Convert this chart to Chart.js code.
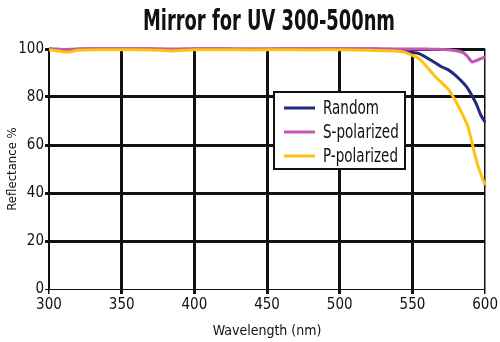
<!DOCTYPE html>
<html>
<head>
<meta charset="utf-8">
<script src="https://cdn.jsdelivr.net/npm/chart.js@4"></script>
<style>
  html, body { margin: 0; padding: 0; background: #fff; }
</style>
</head>
<body>
<canvas id="myChart" width="500" height="342"></canvas>
<script>
// wavelengths (nm) shared by all three curves
var wavelengths = [300, 305, 310, 315, 320, 335, 350, 370, 385, 400, 420, 440, 460, 480, 500, 520, 530, 540, 545, 550, 555, 560, 565, 570, 575, 580, 585, 588, 591, 594, 597, 600];

// reflectance %
var randomVals = [100, 99.8, 99.6, 99.7, 99.9, 100, 100, 100, 99.8, 100, 100, 99.9, 100, 100, 100, 100, 99.9, 99.8, 99.5, 98.6, 98, 96.3, 94.5, 92.6, 91.2, 88.8, 85.8, 83.6, 80.5, 77, 72.5, 69.5];
var sPolVals   = [100, 100, 99.8, 99.9, 100, 100, 100, 100, 100, 100, 100, 100, 100, 100, 100, 100, 100, 100, 100, 100, 100, 100, 99.9, 99.8, 99.7, 99.3, 98.5, 96.8, 94.6, 95.2, 96, 96.6];
var pPolVals   = [99.7, 99.3, 98.8, 98.9, 99.5, 99.7, 99.7, 99.6, 99.2, 99.7, 99.7, 99.6, 99.7, 99.6, 99.7, 99.5, 99.3, 99.1, 98.6, 97.3, 95.8, 92.5, 89, 86, 83, 78, 72, 68, 61, 53.5, 48, 43.3];

var xTicks = [300, 350, 400, 450, 500, 550, 600];
var yTicks = [0, 20, 40, 60, 80, 100];

var seriesNames = ["Random", "S-polarized", "P-polarized"];
var seriesColors = ["#232a7a", "#c257b4", "#ffc20e"];
// Chart.js draws higher order first: blue at the bottom, then pink, yellow on top
var seriesOrder = [4, 3, 1];

var FONT = "'DejaVu Sans Condensed', 'DejaVu Sans', sans-serif";

function toPoints(vals){
    var pts = [];
    for (var i = 0; i < wavelengths.length; i++){
        pts.push({x: wavelengths[i], y: vals[i]});
    }
    return pts;
}

// squeeze a text to a given width, the original uses a very narrow face
function narrowText(ctx, txt, x, y, scaleX){
    ctx.save();
    ctx.translate(x, y);
    ctx.scale(scaleX, 1);
    ctx.fillText(txt, 0, 0);
    ctx.restore();
}

// draws the title and the boxed legend inside the plot
var extras = {
    id: 'extras',
    afterDraw: function(chart){
        var ctx = chart.ctx;
        ctx.save();
        ctx.fillStyle = '#111';
        ctx.font = "bold 29px " + FONT;
        ctx.textAlign = 'center';
        ctx.textBaseline = 'middle';
        var title = 'Mirror for UV 300-500nm';
        var tw = ctx.measureText(title).width;
        narrowText(ctx, title, 269, 22, 252 / tw);

        // legend box
        var bx = 274, by = 92, bw = 131, bh = 77;
        ctx.fillStyle = '#fff';
        ctx.fillRect(bx, by, bw, bh);
        ctx.lineWidth = 2;
        ctx.strokeStyle = '#111';
        ctx.strokeRect(bx, by, bw, bh);

        ctx.font = "20px " + FONT;
        ctx.textAlign = 'left';
        var sx = 75 / ctx.measureText('P-polarized').width;
        chart.data.datasets.forEach(function(ds, i){
            var yy = 108 + i * 24;
            ctx.strokeStyle = ds.borderColor;
            ctx.lineWidth = 3;
            ctx.beginPath();
            ctx.moveTo(284, yy);
            ctx.lineTo(315, yy);
            ctx.stroke();
            ctx.fillStyle = '#111';
            narrowText(ctx, ds.label, 323, yy + 1, sx);
        });
        ctx.restore();
    }
};

var allVals = [randomVals, sPolVals, pPolVals];
var datasets = allVals.map(function(vals, i){
    return {
        label: seriesNames[i],
        data: toPoints(vals),
        borderColor: seriesColors[i],
        backgroundColor: seriesColors[i],
        borderWidth: 3,
        pointRadius: 0,
        tension: 0.2,
        clip: false,
        order: seriesOrder[i]
    };
});

var ctx = document.getElementById('myChart').getContext('2d');
var chart = new Chart(ctx, {
    type: 'line',
    data: { datasets: datasets },
    options: {
        responsive: false,
        animation: false,
        devicePixelRatio: 1,
        layout: { padding: { top: 49, right: 14, left: 0, bottom: 0 } },
        plugins: {
            legend: { display: false },
            title: { display: false },
            tooltip: { enabled: false }
        },
        scales: {
            x: {
                type: 'linear',
                min: 300,
                max: 600,
                afterFit: function(s){ s.height = 53; },
                afterBuildTicks: function(s){ s.ticks = xTicks.map(function(v){ return {value: v}; }); },
                border: { display: true, color: '#111', width: 1 },
                grid: {
                    color: '#111',
                    tickLength: 5,
                    lineWidth: function(c){
                        var v = c.tick ? c.tick.value : 0;
                        return (v === 300 || v === 600) ? 1.5 : 3;
                    }
                },
                ticks: {
                    color: '#111',
                    padding: 2,
                    maxRotation: 0,
                    font: { family: FONT, size: 15 }
                },
                title: {
                    display: true,
                    text: 'Wavelength (nm)',
                    color: '#111',
                    padding: { top: 0, bottom: 2 },
                    font: { family: FONT, size: 14 }
                }
            },
            y: {
                min: 0,
                max: 100,
                afterFit: function(s){ s.width = 49; },
                afterBuildTicks: function(s){ s.ticks = yTicks.map(function(v){ return {value: v}; }); },
                border: { display: true, color: '#111', width: 1 },
                grid: {
                    color: '#111',
                    tickLength: 4,
                    lineWidth: function(c){
                        var v = c.tick ? c.tick.value : 0;
                        return v === 0 ? 1 : 3;
                    }
                },
                ticks: {
                    color: '#111',
                    padding: 1,
                    font: { family: FONT, size: 15 }
                },
                title: {
                    display: true,
                    text: 'Reflectance %',
                    color: '#111',
                    padding: { top: 5, bottom: 0 },
                    font: { family: FONT, size: 13 }
                }
            }
        }
    },
    plugins: [extras]
});
</script>
</body>
</html>
